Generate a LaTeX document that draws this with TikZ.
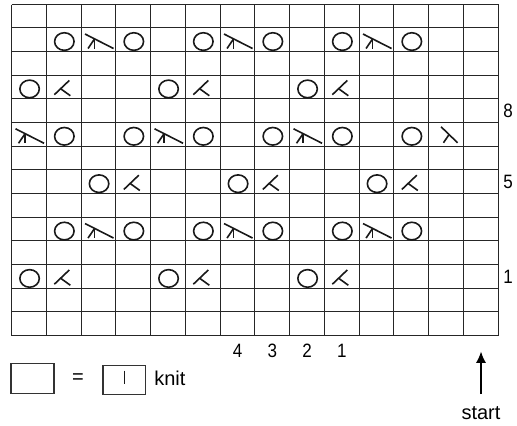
\documentclass[tikz,border=0pt]{standalone}
\usepackage{fontspec}
\setmainfont{Liberation Sans}
\newfontfamily\narrowsans{Liberation Sans}[FakeStretch=0.88]
\usetikzlibrary{arrows.meta}
\begin{document}
\begin{tikzpicture}[x=0.75pt,y=-0.75pt,
  gridline/.style={line width=1.1pt, draw=black!85},
  sym/.style={line width=1.2pt, draw=black!90},
  lbl/.style={font=\narrowsans\fontsize{14.5}{16}\selectfont, inner sep=0pt},
  leg/.style={font=\fontsize{15}{17}\selectfont, inner sep=0pt},
  legbox/.style={draw=black!80, line width=0.85pt, inner sep=0pt},
  yo/.pic={\draw[sym] (0.5,2) ellipse [x radius=7.3pt, y radius=6.6pt];},
  kdec/.pic={\draw[sym] (-9.5,7.8) -- (5.5,-6.5); \draw[sym] (-3.2,1.8) -- (6.5,8.8);},
  ldec/.pic={\draw[sym] (-5,-7.5) -- (11.5,8.5); \draw[sym] (2.8,0.5) -- (-2.6,8.5);},
  ddec/.pic={\draw[sym] (-13.5,-5.5) -- (15,9); \draw[sym] (-4,-0.7) -- (-4,9); \draw[sym] (-4,-0.7) -- (-10.5,9);},
]
\useasboundingbox (0,0) rectangle (517,425);
\def\xo{11.7}\def\cw{34.75}\def\yo{4}\def\rh{23.69}
% grid (lines snapped to pixel centres)
\foreach \i in {0,...,14} {
  \pgfmathsetmacro{\gx}{floor(\xo+\i*\cw)+0.5}
  \draw[gridline] (\gx,4.5) -- (\gx,335.5);
}
\foreach \j in {0,...,14} {
  \pgfmathsetmacro{\gy}{floor(\yo+\j*\rh)+0.5}
  \draw[gridline] (11.5,\gy) -- (498.5,\gy);
}
% symbols
\foreach \r in {1,9} {
  \foreach \c in {1,3,5,7,9,11} \path ({\xo+(\c+0.5)*\cw},{\yo+(\r+0.5)*\rh}) pic {yo};
  \foreach \c in {2,6,10} \path ({\xo+(\c+0.5)*\cw},{\yo+(\r+0.5)*\rh}) pic {ddec};
}
\foreach \r in {3,11} {
  \foreach \c in {0,4,8} \path ({\xo+(\c+0.5)*\cw},{\yo+(\r+0.5)*\rh}) pic {yo};
  \foreach \c in {1,5,9} \path ({\xo+(\c+0.5)*\cw},{\yo+(\r+0.5)*\rh}) pic {kdec};
}
\foreach \c in {0,4,8} \path ({\xo+(\c+0.5)*\cw},{\yo+5.5*\rh}) pic {ddec};
\foreach \c in {1,3,5,7,9,11} \path ({\xo+(\c+0.5)*\cw},{\yo+5.5*\rh}) pic {yo};
\path ({\xo+12.5*\cw},{\yo+5.5*\rh}) pic {ldec};
\foreach \c in {2,6,10} \path ({\xo+(\c+0.5)*\cw},{\yo+7.5*\rh}) pic {yo};
\foreach \c in {3,7,11} \path ({\xo+(\c+0.5)*\cw},{\yo+7.5*\rh}) pic {kdec};
% column labels
\node[lbl] (c4) at ({\xo+6.5*\cw},351) {4};
\node[lbl] (c3) at ({\xo+7.5*\cw},351) {3};
\node[lbl] (c2) at ({\xo+8.5*\cw},351) {2};
\node[lbl] (c1) at ({\xo+9.5*\cw},351) {1};
% row labels
\node[lbl] (r8) at (508,{\yo+4.5*\rh}) {8};
\node[lbl] (r5) at (508,{\yo+7.5*\rh}) {5};
\node[lbl] (r1) at (508,{\yo+11.5*\rh}) {1};
% legend
\node[legbox, minimum width=32.2pt, minimum height=22.3pt] (blank) at (32.5,378.3) {};
\node[leg] (eq) at (78,378.5) {=};
\node[legbox, minimum width=32pt, minimum height=21.6pt] (knitbox) at (124.3,380.2) {};
\draw[sym] (124.3,370.7) -- (124.3,384.3);
\node[leg, anchor=west] (knit) at (154,378) {knit};
% start arrow
\node[leg] (start) at (481,413) {start};
\coordinate (arrtip) at (481,351.5);
\draw[line width=1pt, -{Latex[length=8.5pt, width=7.5pt]}, shorten <=9pt] (start.north) -- (arrtip);
\end{tikzpicture}
\end{document}
